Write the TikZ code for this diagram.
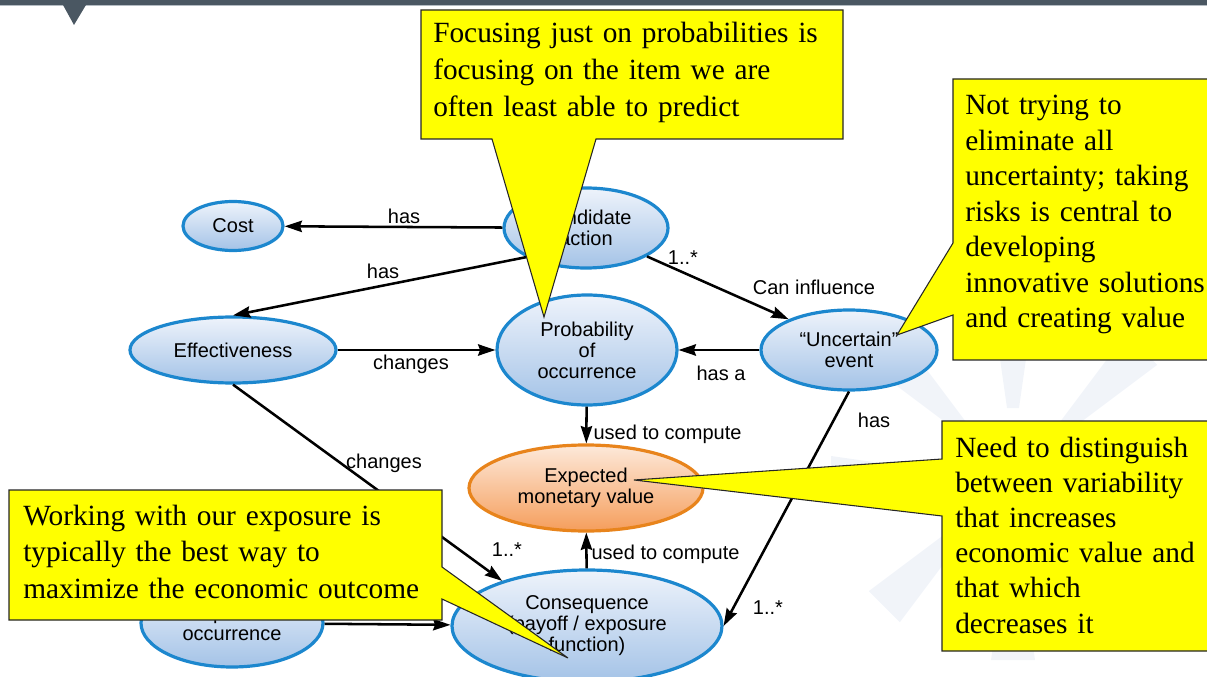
\documentclass[tikz,border=0pt]{standalone}
\usepackage{fontspec}
\setmainfont{Liberation Serif}
\setsansfont{Liberation Sans}
\usetikzlibrary{shapes.geometric,arrows.meta}

\definecolor{bandgray}{HTML}{4A5762}
\definecolor{bandline}{HTML}{B4BCC3}
\definecolor{nodeblue}{HTML}{1C87CE}
\definecolor{fillhi}{HTML}{EEF3FB}
\definecolor{filllo}{HTML}{A4C3E7}
\definecolor{emvline}{HTML}{E8841C}
\definecolor{emvhi}{HTML}{FDE9DA}
\definecolor{emvlo}{HTML}{F59E5C}
\definecolor{noteyellow}{HTML}{FFFF00}
\definecolor{rayblue}{HTML}{F1F4F9}

\begin{document}
\begin{tikzpicture}[x=0.75pt,y=-0.75pt,
  concept/.style={ellipse, draw=nodeblue, line width=2.4pt,
    top color=fillhi, bottom color=filllo, inner sep=0pt,
    font=\sffamily\fontsize{15}{15.75}\selectfont, align=center},
  result/.style={concept, draw=emvline, top color=emvhi, bottom color=emvlo},
  rel/.style={-{Stealth[length=13pt,width=8.5pt,inset=1.5pt]}, line width=1.9pt, black},
  lbl/.style={font=\sffamily\fontsize{15}{18}\selectfont, inner sep=1pt},
  callout/.style={fill=noteyellow, draw=black!85, line width=0.8pt},
  notetext/.style={anchor=base west, inner sep=0pt, align=left, text width=330pt,
    font=\rmfamily\fontsize{22}{27}\selectfont}
]
\useasboundingbox (0,0) rectangle (1207,677);
\clip (0,0) rectangle (1207,677);

% faint sunburst watermark
\begin{scope}[shift={(1013,478)}]
  \foreach \a in {0,45,...,315}
    \fill[rayblue, rotate=\a] (70,-6) -- (182,-22) -- (182,22) -- (70,6) -- cycle;
\end{scope}

% header band with its pointer
\fill[bandgray] (0,0) rectangle (1207,5);
\fill[bandline] (0,5) rectangle (1207,6.5);
\fill[bandgray] (63,5) -- (86,5) -- (74,25) -- cycle;

% concepts
\node[concept, minimum width=75pt,   minimum height=36.75pt] (cost) at (233,226) {Cost};
\node[concept, minimum width=123pt,  minimum height=60pt]    (cand) at (586,228) {Candidate\\action};
\node[concept, minimum width=154.5pt,minimum height=49.5pt]  (eff)  at (233,350) {Effectiveness};
\node[concept, minimum width=135pt,  minimum height=82.5pt]  (prob) at (587,350) {Probability\\of\\occurrence};
\node[concept, minimum width=132pt,  minimum height=60pt]    (unc)  at (849,350) {“Uncertain”\\event};
\node[result,  minimum width=175.5pt,minimum height=64.5pt]  (emv)  at (586,488) {Expected\\monetary value};
\node[concept, minimum width=202.5pt,minimum height=84pt]    (cons) at (587,626) {Consequence\\(payoff / exposure\\function)};
\node[concept, minimum width=136.5pt,minimum height=66pt]    (imp)  at (232,623) {Impact of\\occurrence};

% relations
\draw[rel] (cand) -- (cost);
\draw[rel] (cand.206) -- (eff.north);
\draw[rel] (cand.-25) -- (unc.153);
\draw[rel] (eff) -- (prob);
\draw[rel] (unc) -- (prob);
\draw[rel] (prob) -- (emv);
\draw[rel] (cons) -- (emv);
\draw[rel] (eff.south) -- (cons.152);
\draw[rel] (unc.south) -- (cons.east);
\draw[rel] (imp) -- (cons);

% relation labels
\node[lbl] (l-cost)  at (404,216) {has};
\node[lbl] (l-eff)   at (383,271) {has};
\node[lbl] (l-m1)    at (683,258) {1..*};
\node[lbl] (l-infl)  at (814,287) {Can influence};
\node[lbl] (l-chg1)  at (411,364) {changes};
\node[lbl] (l-hasa)  at (721,373) {has a};
\node[lbl, anchor=west] (l-use1) at (592,434) {used to compute};
\node[lbl, anchor=west] (l-use2) at (590,554) {used to compute};
\node[lbl] (l-chg2)  at (384,463) {changes};
\node[lbl] (l-m2)    at (507,550) {1..*};
\node[lbl] (l-has3)  at (874,420) {has};
\node[lbl] (l-m3)    at (768,608) {1..*};

% callouts
\draw[callout] (421,10) -- (843,10) -- (843,139) -- (596,139) -- (544,317)
  -- (492,139) -- (421,139) -- cycle;
\node[notetext, font=\rmfamily\fontsize{22}{27.75}\selectfont] (noteA) at (433,43)
  {Focusing just on probabilities is\\focusing on the item we are\\often least able to predict};

\draw[callout] (953,79) -- (1215,79) -- (1215,360) -- (953,360) -- (953,315)
  -- (897,335) -- (953,243) -- cycle;
\node[notetext, font=\rmfamily\fontsize{22}{26.6}\selectfont] (noteB) at (965,115)
  {Not trying to\\eliminate all\\uncertainty; taking\\risks is central to\\developing\\innovative solutions\\and creating value};

\draw[callout] (942,421) -- (1215,421) -- (1215,651) -- (942,651) -- (942,516)
  -- (634,480) -- (942,459) -- cycle;
\node[notetext, font=\rmfamily\fontsize{22}{26.4}\selectfont] (noteC) at (955,457)
  {Need to distinguish\\between variability\\that increases\\economic value and\\that which\\decreases it};

\draw[callout] (9,490) -- (442,490) -- (442,567) -- (568,658) -- (442,599)
  -- (442,620) -- (9,620) -- cycle;
\node[notetext, font=\rmfamily\fontsize{22}{27.4}\selectfont] (noteD) at (23,525)
  {Working with our exposure is\\typically the best way to\\maximize the economic outcome};
\end{tikzpicture}
\end{document}
